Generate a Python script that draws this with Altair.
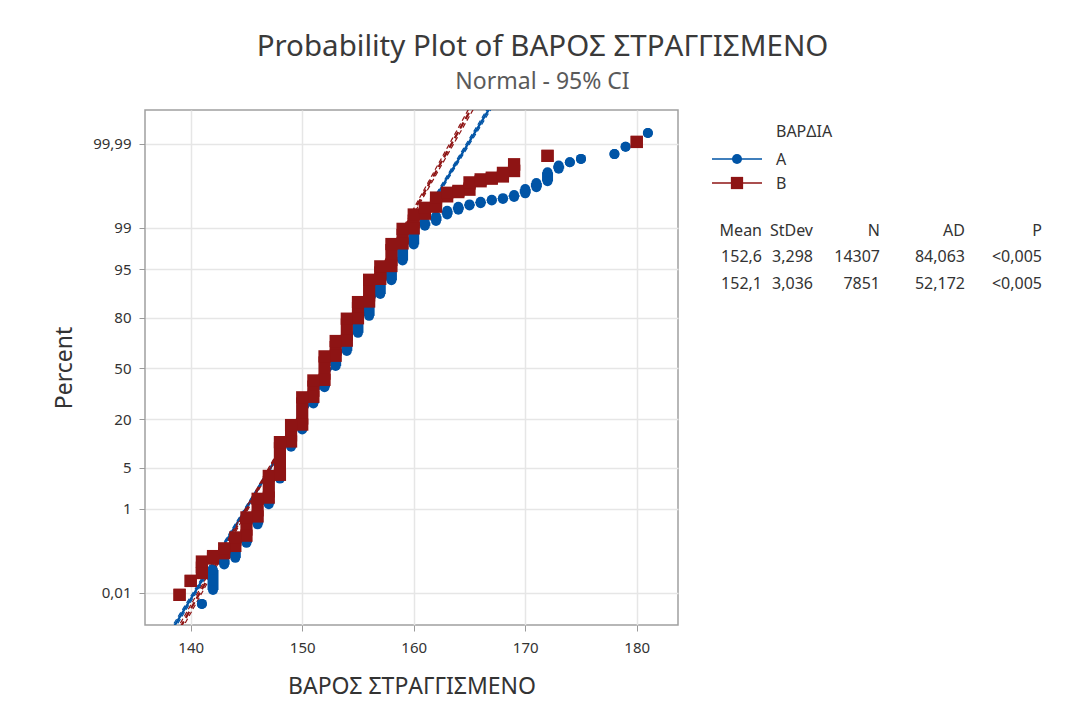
import altair as alt
import numpy as np
import pandas as pd
from statistics import NormalDist

_nd = NormalDist()


def probit(pct):
    """Percent -> standard normal quantile (probability-paper position)."""
    return _nd.inv_cdf(pct / 100.0)


# ---------------------------------------------------------------- data
series = ["A", "B"]
colors = ["#0054A6", "#8E1414"]
group_title = "ΒΑΡΔΙΑ"

means = [152.6, 152.1]
stdevs = [3.298, 3.036]
counts = [14307, 7851]
ad_stats = [84.063, 52.172]
p_values = ["<0,005", "<0,005"]

# Plotted points: for every weight value, lowest and highest plotting
# percent of the tied observations (they stack into a vertical run).
a_values = [141, 142, 143, 144, 145, 146, 147, 148, 149, 150, 151, 152, 153,
            154, 155, 156, 157, 158, 159, 160, 161, 162, 163, 164, 165, 166,
            167, 168, 169, 170, 171, 172, 173, 174, 175, 178, 179, 181]
a_lo = [0.0048, 0.0121, 0.058, 0.085, 0.193, 0.49, 1.22, 3.4, 9.7, 15.6,
        28.1, 37.8, 51.6, 61.4, 72.2, 80.8, 89.1, 92.8, 96.3, 98.0, 99.09,
        99.27, 99.46, 99.57, 99.65, 99.69, 99.73, 99.75, 99.774, 99.813,
        99.865, 99.903, 99.953, 99.968, 99.974, 99.9807, 99.9879, 99.9952]
a_hi = [0.0048, 0.042, 0.074, 0.175, 0.45, 1.13, 3.2, 9.3, 15.2, 27.4,
        37.1, 50.8, 60.6, 71.6, 80.2, 88.7, 92.5, 96.2, 97.9, 99.04, 99.22,
        99.41, 99.55, 99.63, 99.67, 99.71, 99.74, 99.76, 99.795, 99.851,
        99.893, 99.942, 99.961, 99.968, 99.974, 99.9807, 99.9879, 99.9952]

b_values = [139, 140, 141, 142, 143, 144, 145, 146, 147, 148, 149, 150, 151,
            152, 153, 154, 155, 156, 157, 158, 159, 160, 161, 162, 163, 164,
            165, 166, 167, 168, 169, 172, 180]
b_lo = [0.0088, 0.0216, 0.035, 0.082, 0.11, 0.164, 0.28, 0.71, 1.62, 3.9,
        11.3, 17.6, 31.9, 42.5, 58.3, 67.7, 79.7, 86.6, 93.1, 95.5, 98.08,
        98.98, 99.48, 99.63, 99.781, 99.825, 99.846, 99.903, 99.916, 99.926,
        99.946, 99.9784, 99.9912]
b_hi = [0.0088, 0.0216, 0.069, 0.094, 0.144, 0.256, 0.68, 1.54, 3.75, 11.1,
        17.4, 31.6, 42.1, 57.9, 67.5, 79.5, 86.4, 92.9, 95.45, 98.03, 98.96,
        99.46, 99.61, 99.767, 99.819, 99.836, 99.897, 99.913, 99.921, 99.940,
        99.964, 99.9784, 99.9912]

y_tick_pct = [0.01, 1, 5, 20, 50, 80, 95, 99, 99.99]
y_tick_labels = ["0,01", "1", "5", "20", "50", "80", "95", "99", "99,99"]
x_ticks = [140, 150, 160, 170, 180]

X_DOMAIN = [135.9, 183.7]
Z_DOMAIN = [-4.25, 4.28]

FONT = "Noto Sans"
TEXT = "#333333"

# ---------------------------------------------------------------- frames
def columns_frame(name, values, lo, hi):
    return pd.DataFrame({
        "series": name,
        "x": values,
        "zlo": [probit(p) for p in lo],
        "zhi": [probit(p) for p in hi],
    })


cols_a = columns_frame("A", a_values, a_lo, a_hi)
cols_b = columns_frame("B", b_values, b_lo, b_hi)

# fitted normal line and 95% confidence band for each group
zs = np.linspace(Z_DOMAIN[0] - 0.2, Z_DOMAIN[1] + 0.2, 41)
fit_frames = []
for name, mu, sd, n in zip(series, means, stdevs, counts):
    se = sd * np.sqrt(1.0 / n + zs ** 2 / (2.0 * (n - 1)))
    fit_frames.append(pd.DataFrame({"series": name, "z": zs, "x": mu + zs * sd,
                                    "lo": mu + zs * sd - 1.96 * se,
                                    "hi": mu + zs * sd + 1.96 * se}))

xscale = alt.Scale(domain=X_DOMAIN, nice=False, zero=False)
yscale = alt.Scale(domain=Z_DOMAIN, nice=False, zero=False)

label_expr = "''"
for pct, lab in zip(y_tick_pct, y_tick_labels):
    label_expr = f"abs(datum.value - ({probit(pct):.6f})) < 0.001 ? '{lab}' : ({label_expr})"

x_axis = alt.Axis(values=x_ticks, format="d", title="ΒΑΡΟΣ ΣΤΡΑΓΓΙΣΜΕΝΟ",
                  titlePadding=20, labelPadding=9)
y_axis = alt.Axis(values=[probit(p) for p in y_tick_pct], labelExpr=label_expr,
                  title="Percent", titlePadding=16, labelPadding=8)


def X(field):
    return alt.X(f"{field}:Q", scale=xscale, axis=x_axis)


def Y(field):
    return alt.Y(f"{field}:Q", scale=yscale, axis=y_axis)


layers = []

# fit + confidence lines
for i, (name, f) in enumerate(zip(series, fit_frames)):
    dash = [] if name == "A" else [7, 4]
    base = alt.Chart(f)
    for fld, w, d in (("lo", 1.2, [5, 3]), ("hi", 1.2, [5, 3]), ("x", 2.2, dash)):
        mk = dict(color=colors[i], strokeWidth=w, clip=True)
        if d:
            mk["strokeDash"] = d
        layers.append(base.mark_line(**mk).encode(
            x=alt.X(f"{fld}:Q", scale=xscale, axis=x_axis),
            y=Y("z"), order="z:Q"))

# plotted observations
for i, (frame, shape, size, width) in enumerate(
        ((cols_a, "circle", 100, 11), (cols_b, "square", 150, 12.2))):
    base = alt.Chart(frame)
    layers.append(base.mark_rule(color=colors[i], strokeWidth=width, clip=True)
                  .encode(x=X("x"), y=Y("zlo"), y2="zhi:Q"))
    for end in ("zlo", "zhi"):
        layers.append(base.mark_point(shape=shape, size=size, filled=True,
                                      opacity=1, color=colors[i], strokeWidth=0,
                                      clip=True)
                      .encode(x=X("x"), y=Y(end)))

# legend (right of the plot area)
one = pd.DataFrame({"k": [0]})
LEG_X0, LEG_X1, LEG_MK, LEG_TX = 567, 617, 592, 631
leg_rows = [49, 73]
layers.append(alt.Chart(one).mark_text(align="left", baseline="middle",
                                       font=FONT, fontSize=16, color=TEXT)
              .encode(x=alt.value(LEG_TX), y=alt.value(22), text=alt.value(group_title)))
for i, name in enumerate(series):
    layers.append(alt.Chart(one).mark_rule(color=colors[i], strokeWidth=1.5)
                  .encode(x=alt.value(LEG_X0), x2=alt.value(LEG_X1),
                          y=alt.value(leg_rows[i])))
    layers.append(alt.Chart(one).mark_point(shape="circle" if i == 0 else "square",
                                            size=100 if i == 0 else 150, filled=True,
                                            opacity=1, color=colors[i], strokeWidth=0)
                  .encode(x=alt.value(LEG_MK), y=alt.value(leg_rows[i])))
    layers.append(alt.Chart(one).mark_text(align="left", baseline="middle",
                                           font=FONT, fontSize=16, color=TEXT)
                  .encode(x=alt.value(LEG_TX), y=alt.value(leg_rows[i] + 1),
                          text=alt.value(name)))

# summary statistics table
def fmt(v, d):
    return f"{v:.{d}f}".replace(".", ",")


headers = ["Mean", "StDev", "N", "AD", "P"]
col_right = [617, 668, 735, 820, 897]
rows = [[fmt(means[i], 1), fmt(stdevs[i], 3), str(counts[i]), fmt(ad_stats[i], 3),
         p_values[i]] for i in range(len(series))]
row_y = [121, 147, 174]
for r, cells in enumerate([headers] + rows):
    for c, txt in enumerate(cells):
        layers.append(alt.Chart(one).mark_text(align="right", baseline="middle",
                                               font=FONT, fontSize=16, color=TEXT)
                      .encode(x=alt.value(col_right[c]), y=alt.value(row_y[r]),
                              text=alt.value(txt)))

chart = alt.layer(*layers).properties(
    width=533,
    height=515,
    padding={"left": 145, "top": 110, "right": 389, "bottom": 92},
    autosize=alt.AutoSizeParams(type="none"),
    background="white",
    title=alt.TitleParams(
        text="Probability Plot of ΒΑΡΟΣ ΣΤΡΑΓΓΙΣΜΕΝΟ",
        subtitle="Normal - 95% CI",
        font=FONT, fontSize=29.5, fontWeight="normal", color="#3a3a3a",
        subtitleFont=FONT, subtitleFontSize=23, subtitleColor="#5a5a5a",
        subtitlePadding=9, anchor="middle", frame="group", dx=131, offset=15,
    ),
).configure_view(
    stroke="#a0a0a0", strokeWidth=1.5,
).configure_axis(
    labelFont=FONT, titleFont=FONT, labelFontSize=15, titleFontSize=23,
    titleFontWeight="normal", labelColor=TEXT, titleColor=TEXT,
    gridColor="#e6e6e6", gridWidth=1.5, tickColor="#9a9a9a", tickSize=6,
    domain=False,
)

chart.save("out.html", embed_options={"renderer": "svg", "actions": False})
